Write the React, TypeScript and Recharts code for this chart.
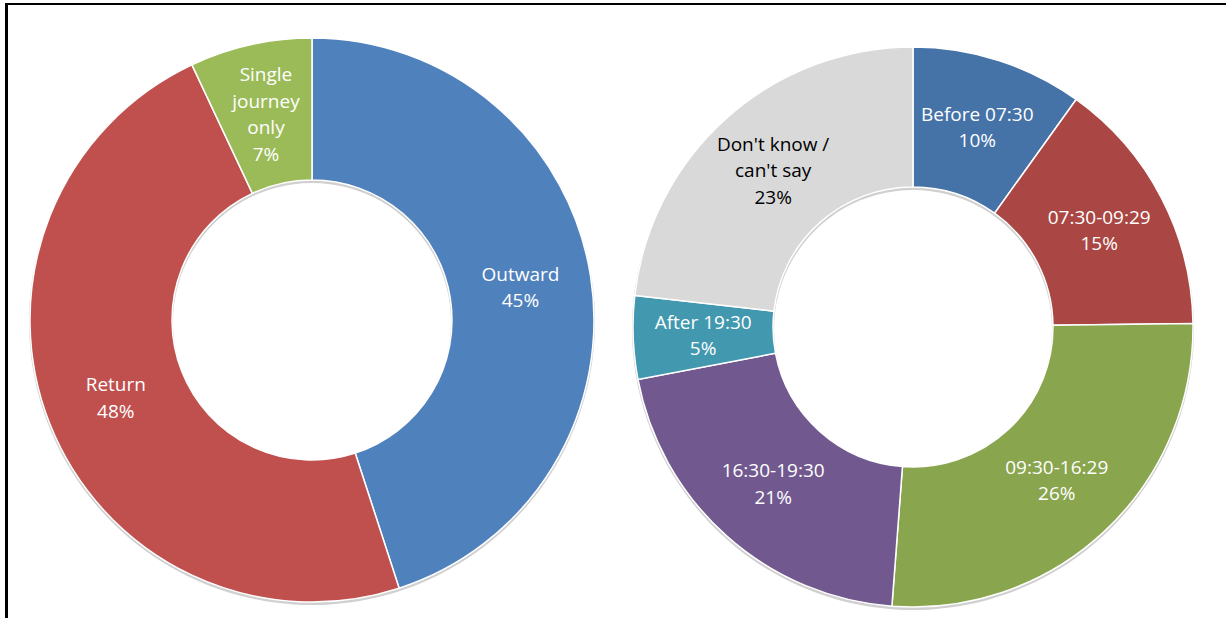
import React from "react";
import { PieChart, Pie, Cell } from "recharts";

const journeyNames = ["Outward", "Return", "Single\njourney\nonly"];
const journeyValues = [45, 48, 7];
const journeyColors = ["#4F81BD", "#C0504D", "#9BBB59"];

const timeNames = [
  "Before 07:30",
  "07:30-09:29",
  "09:30-16:29",
  "16:30-19:30",
  "After 19:30",
  "Don't know /\ncan't say",
];
const timeValues = [9.9, 14.9, 26.4, 20.8, 4.8, 23.2];
const timeColors = ["#4572A7", "#AA4643", "#89A54E", "#71588F", "#4198AF", "#D9D9D9"];
const timeTextColors = ["#fff", "#fff", "#fff", "#fff", "#fff", "#000"];

const journeyData = journeyNames.map((n, i) => ({ name: n, value: journeyValues[i], text: "#fff" }));
const timeData = timeNames.map((n, i) => ({ name: n, value: timeValues[i], text: timeTextColors[i] }));
const ringData = [{ name: "ring", value: 1 }];

const RAD = Math.PI / 180;
const FONT = "'Open Sans', Lato, sans-serif";

const renderLabel = (props: any) => {
  const { cx, cy, midAngle, innerRadius, outerRadius, payload, value } = props;
  const r = (innerRadius + outerRadius) / 2;
  const x = cx + r * Math.cos(-midAngle * RAD);
  const y = cy + r * Math.sin(-midAngle * RAD);
  const p = payload && payload.payload ? payload.payload : payload;
  const lines = String(p.name).split("\n").concat([`${Math.round(Number(value))}%`]);
  const lh = 26.5;
  const start = -((lines.length - 1) / 2) * lh;
  return (
    <text
      x={x}
      y={y}
      textAnchor="middle"
      dominantBaseline="central"
      fill={p.text}
      fontFamily={FONT}
      fontSize={19}
    >
      {lines.map((l: string, i: number) => (
        <tspan key={i} x={x} y={y + start + i * lh}>
          {l}
        </tspan>
      ))}
    </text>
  );
};

export default function App() {
  return (
    <div style={{ position: "relative", width: 1226, height: 618, background: "#fff", overflow: "hidden" }}>
      <style>{`html,body{margin:0;padding:0;}`}</style>
      <div style={{ position: "absolute", left: 0, top: 0 }}>
        <PieChart width={1226} height={618} margin={{ top: 0, right: 0, bottom: 0, left: 0 }}>
          <Pie
            data={ringData}
            dataKey="value"
            cx={312}
            cy={322}
            outerRadius={283}
            innerRadius={139}
            fill="#d0d0d0"
            stroke="none"
            isAnimationActive={false}
          />
          <Pie
            data={ringData}
            dataKey="value"
            cx={913}
            cy={329}
            outerRadius={281}
            innerRadius={139}
            fill="#d0d0d0"
            stroke="none"
            isAnimationActive={false}
          />
          <Pie
            data={journeyData}
            dataKey="value"
            nameKey="name"
            cx={312}
            cy={320}
            outerRadius={282}
            innerRadius={140}
            startAngle={90}
            endAngle={-270}
            stroke="#fff"
            strokeWidth={1.5}
            label={renderLabel}
            labelLine={false}
            isAnimationActive={false}
          >
            {journeyData.map((d, i) => (
              <Cell key={i} fill={journeyColors[i]} />
            ))}
          </Pie>
          <Pie
            data={timeData}
            dataKey="value"
            nameKey="name"
            cx={913}
            cy={327}
            outerRadius={280}
            innerRadius={140}
            startAngle={90}
            endAngle={-270}
            stroke="#fff"
            strokeWidth={1.5}
            label={renderLabel}
            labelLine={false}
            isAnimationActive={false}
          >
            {timeData.map((d, i) => (
              <Cell key={i} fill={timeColors[i]} />
            ))}
          </Pie>
        </PieChart>
      </div>
      <div style={{ position: "absolute", left: 5, top: 3, right: 0, height: 2, background: "#000" }} />
      <div style={{ position: "absolute", left: 5, top: 3, bottom: 0, width: 3, background: "#000" }} />
    </div>
  );
}
